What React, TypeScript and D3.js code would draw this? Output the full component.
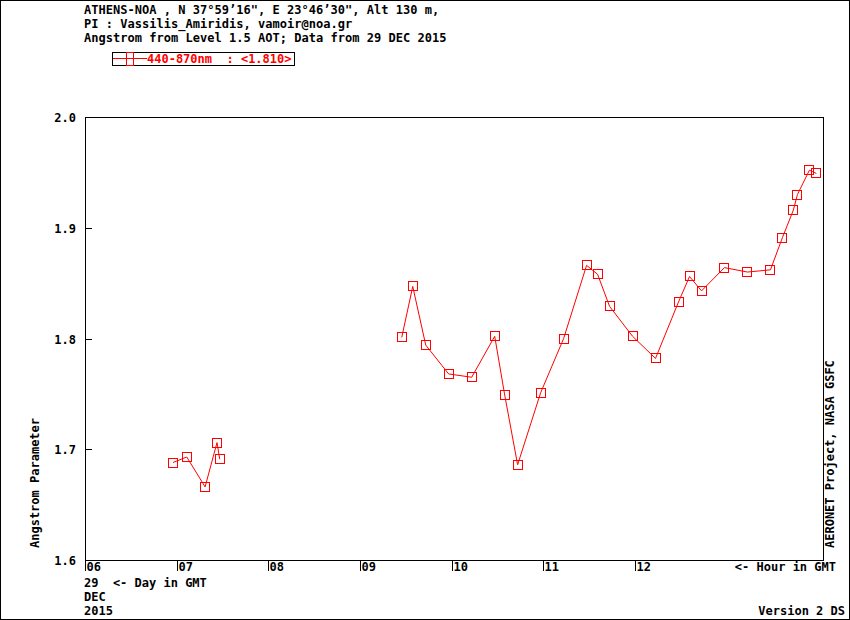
import React, { useEffect, useRef } from 'react';
import * as d3 from 'd3';

// hour of day (GMT) and 440-870nm Angstrom exponent, 29 DEC 2015
const hours: number[] = [
    6.96, 7.11, 7.31, 7.44, 7.47,
    9.455, 9.575, 9.717, 9.967, 10.218, 10.469, 10.578, 10.719, 10.97, 11.221,
    11.471, 11.591, 11.722, 11.973, 12.223, 12.474, 12.594, 12.725, 12.975,
    13.226, 13.477, 13.607, 13.727, 13.771, 13.902, 13.978,
];
const angstrom: number[] = [
    1.688, 1.693, 1.666, 1.706, 1.691,
    1.801, 1.847, 1.794, 1.768, 1.765, 1.802, 1.749, 1.686, 1.751, 1.800,
    1.866, 1.858, 1.829, 1.802, 1.782, 1.833, 1.856, 1.843, 1.864,
    1.860, 1.862, 1.891, 1.916, 1.930, 1.952, 1.949,
];
const hourTicks: number[] = [6, 7, 8, 9, 10, 11, 12];
const valueTicks: number[] = [1.6, 1.7, 1.8, 1.9, 2.0];
const titleLines: string[] = [
    'ATHENS-NOA , N 37\u00b059\u201916", E 23\u00b046\u201930", Alt 130 m,',
    'PI : Vassilis_Amiridis, vamoir@noa.gr',
    'Angstrom from Level 1.5 AOT; Data from 29 DEC 2015',
];
const legendLabel = '440-870nm  : <1.810>';
const dateLines: string[] = ['29  <- Day in GMT', 'DEC', '2015'];

const W = 850;
const H = 620;
const FONT = '"DejaVu Sans Mono", monospace';

const App: React.FC = () => {
    const ref = useRef<SVGSVGElement>(null);

    useEffect(() => {
        if (!ref.current) return;
        const svg = d3.select(ref.current);
        svg.selectAll('*').remove();

        const left = 85, right = 823, top = 117, bottom = 560;
        const x = d3.scaleLinear().domain([6, 14.05]).range([left, right]);
        const y = d3.scaleLinear().domain([1.6, 2.0]).range([bottom, top]);

        const txt = (g: any) => g
            .attr('font-family', FONT)
            .attr('font-weight', 'bold')
            .attr('font-size', 12)
            .attr('fill', 'black')
            .style('white-space', 'pre');

        // outer frame
        svg.append('rect')
            .attr('x', 0.5).attr('y', 0.5)
            .attr('width', W - 1).attr('height', H - 1)
            .attr('fill', 'white').attr('stroke', 'black');

        // header
        titleLines.forEach((t, i) => {
            svg.append('text').call(txt)
                .attr('x', 84).attr('y', 14 + i * 14)
                .attr('textLength', t.length * 7.25)
                .text(t);
        });

        // legend
        const lg = svg.append('g').attr('shape-rendering', 'crispEdges');
        lg.append('rect')
            .attr('x', 112.5).attr('y', 52.5).attr('width', 182).attr('height', 13)
            .attr('fill', 'none').attr('stroke', 'black');
        lg.append('line')
            .attr('x1', 113).attr('x2', 147).attr('y1', 58.5).attr('y2', 58.5)
            .attr('stroke', 'red');
        lg.append('rect')
            .attr('x', 126.5).attr('y', 52.5).attr('width', 7).attr('height', 13)
            .attr('fill', 'none').attr('stroke', 'red');
        svg.append('text').call(txt)
            .attr('x', 147).attr('y', 63)
            .attr('fill', 'red')
            .text(legendLabel);

        // plot frame
        svg.append('rect')
            .attr('x', left + 0.5).attr('y', top + 0.5)
            .attr('width', right - left).attr('height', bottom - top)
            .attr('fill', 'none').attr('stroke', 'black')
            .attr('shape-rendering', 'crispEdges');

        // y ticks
        valueTicks.forEach(v => {
            const yy = Math.round(y(v)) + 0.5;
            svg.append('line')
                .attr('x1', left).attr('x2', left + 7)
                .attr('y1', yy).attr('y2', yy)
                .attr('stroke', 'black').attr('shape-rendering', 'crispEdges');
            svg.append('text').call(txt)
                .attr('x', 76).attr('y', yy + 4.5)
                .attr('text-anchor', 'end')
                .text(d3.format('.1f')(v));
        });

        // x ticks
        hourTicks.forEach(h => {
            const xx = Math.round(x(h)) + 0.5;
            svg.append('line')
                .attr('x1', xx).attr('x2', xx)
                .attr('y1', bottom).attr('y2', bottom + 11)
                .attr('stroke', 'black').attr('shape-rendering', 'crispEdges');
            svg.append('text').call(txt)
                .attr('x', xx + 1).attr('y', bottom + 11)
                .text(d3.format('02d')(h));
        });
        svg.append('text').call(txt)
            .attr('x', 836).attr('y', bottom + 11)
            .attr('text-anchor', 'end')
            .text('<- Hour in GMT');

        dateLines.forEach((t, i) => {
            svg.append('text').call(txt)
                .attr('x', 84).attr('y', 587 + i * 14)
                .text(t);
        });
        svg.append('text').call(txt)
            .attr('x', 845).attr('y', 615)
            .attr('text-anchor', 'end')
            .text('Version 2 DS');

        // axis titles
        svg.append('text').call(txt)
            .attr('transform', 'translate(39,548) rotate(-90)')
            .text('Angstrom Parameter');
        svg.append('text').call(txt)
            .attr('transform', 'translate(834,548) rotate(-90)')
            .text('AERONET Project, NASA GSFC');

        // data: break the line where measurements are more than an hour apart
        const pts = hours.map((h, i) => ({ h, v: angstrom[i] }));
        const segments: { h: number; v: number }[][] = [];
        pts.forEach((p, i) => {
            if (i === 0 || p.h - pts[i - 1].h > 1) segments.push([]);
            segments[segments.length - 1].push(p);
        });

        const line = d3.line<{ h: number; v: number }>()
            .x(d => x(d.h))
            .y(d => y(d.v));

        svg.selectAll('path.seg')
            .data(segments)
            .enter()
            .append('path')
            .attr('class', 'seg')
            .attr('d', d => line(d))
            .attr('fill', 'none')
            .attr('stroke', 'red')
            .attr('stroke-width', 1);

        svg.selectAll('rect.pt')
            .data(pts)
            .enter()
            .append('rect')
            .attr('class', 'pt')
            .attr('x', d => Math.round(x(d.h)) - 4.5)
            .attr('y', d => Math.round(y(d.v)) - 4.5)
            .attr('width', 9)
            .attr('height', 9)
            .attr('fill', 'none')
            .attr('stroke', 'red')
            .attr('shape-rendering', 'crispEdges');
    }, []);

    return (
        <svg
            ref={ref}
            width={W}
            height={H}
            style={{ position: 'absolute', left: 0, top: 0, display: 'block', background: 'white' }}
        />
    );
};

export default App;
